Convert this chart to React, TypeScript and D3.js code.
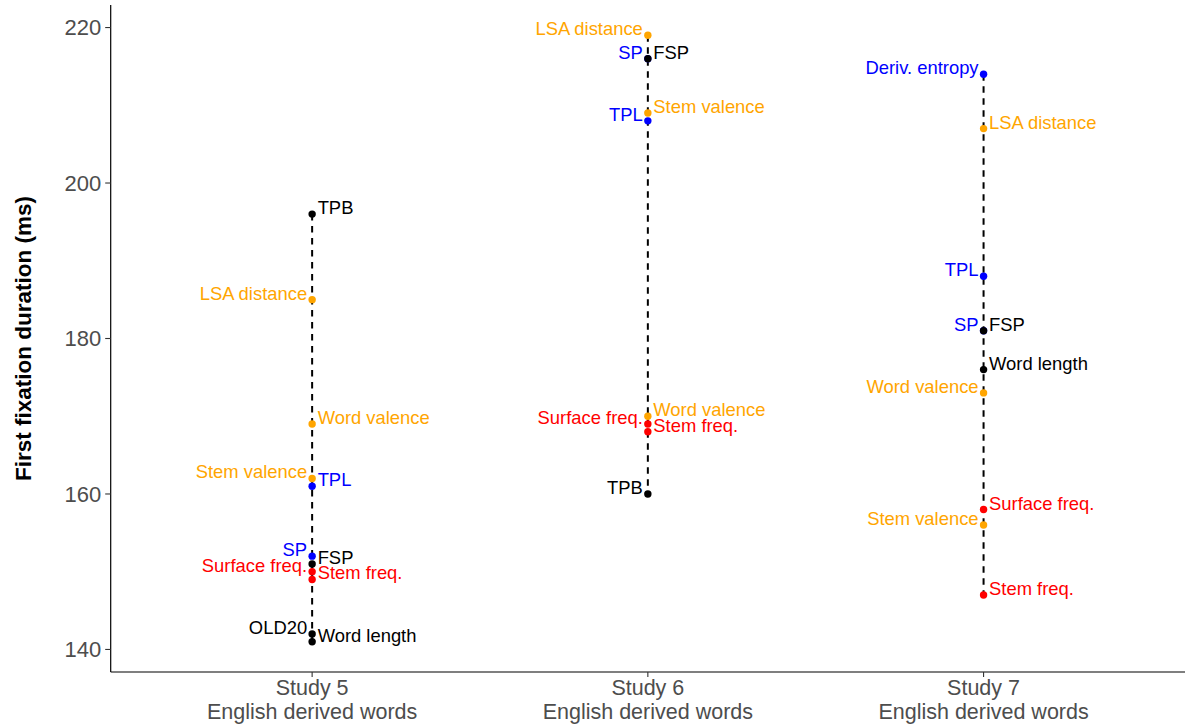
import React from "react";
import * as d3 from "d3";

// ---- data ----
const studies = ["Study 5", "Study 6", "Study 7"];
const studySubtitle = "English derived words";

const study5Vars = ["TPL", "SP", "LSA distance", "Word valence", "Stem valence", "Surface freq.", "Stem freq.", "TPB", "FSP", "OLD20", "Word length"];
const study5Values = [161, 152, 185, 169, 162, 150, 149, 196, 151, 142, 141];
const study5Sides = ["right", "left", "left", "right", "left", "left", "right", "right", "right", "left", "right"];

const study6Vars = ["SP", "TPL", "LSA distance", "Stem valence", "Word valence", "Surface freq.", "Stem freq.", "FSP", "TPB"];
const study6Values = [216, 208, 219, 209, 170, 169, 168, 216, 160];
const study6Sides = ["left", "left", "left", "right", "right", "left", "right", "right", "left"];

const study7Vars = ["Deriv. entropy", "TPL", "SP", "LSA distance", "Word valence", "Stem valence", "Surface freq.", "Stem freq.", "FSP", "Word length"];
const study7Values = [214, 188, 181, 207, 173, 156, 158, 147, 181, 176];
const study7Sides = ["left", "left", "left", "right", "left", "left", "right", "right", "right", "right"];

const yTicks = [140, 160, 180, 200, 220];
const yTitle = "First fixation duration (ms)";

const blackVars = ["TPB", "FSP", "OLD20", "Word length"];
const orangeVars = ["LSA distance", "Word valence", "Stem valence"];
const blueVars = ["TPL", "SP", "Deriv. entropy"];
const redVars = ["Surface freq.", "Stem freq."];

const colorOf = (v: string) =>
  blackVars.includes(v) ? "#000000" : orangeVars.includes(v) ? "#FFA500" : blueVars.includes(v) ? "#0000FF" : redVars.includes(v) ? "#FF0000" : "#000";

const studyData = [
  { vars: study5Vars, values: study5Values, sides: study5Sides },
  { vars: study6Vars, values: study6Values, sides: study6Sides },
  { vars: study7Vars, values: study7Values, sides: study7Sides },
];

// ---- layout ----
const W = 1189;
const H = 727;
const left = 110.7;
const right = 1185;
const top = 5;
const bottom = 672;
const FONT = "'Liberation Sans', Arial, Helvetica, sans-serif";

export default function App() {
  const y = d3.scaleLinear().domain([137.1, 222.9]).range([bottom, top]);
  const x = d3.scalePoint<string>().domain(studies).range([left, right]).padding(0.6);

  return (
    <svg width={W} height={H} style={{ position: "absolute", left: 0, top: 0, background: "#fff" }} fontFamily={FONT}>
      <rect x={0} y={0} width={W} height={H} fill="#fff" />
      {/* dashed range lines */}
      {studies.map((s, i) => {
        const vals = studyData[i].values;
        const lo = d3.min(vals) as number;
        const hi = d3.max(vals) as number;
        return (
          <line
            key={"l" + s}
            x1={x(s)}
            x2={x(s)}
            y1={y(hi)}
            y2={y(lo)}
            stroke="#000"
            strokeWidth={2}
            strokeDasharray="6.5,5.5"
          />
        );
      })}
      {/* points */}
      {studies.map((s, i) =>
        studyData[i].vars.map((v, j) => (
          <circle key={"p" + s + v} cx={x(s)} cy={y(studyData[i].values[j])} r={3.7} fill={colorOf(v)} />
        ))
      )}
      {/* labels */}
      {studies.map((s, i) =>
        studyData[i].vars.map((v, j) => {
          const side = studyData[i].sides[j];
          const cx = x(s) as number;
          return (
            <text
              key={"t" + s + v}
              x={side === "left" ? cx - 5 : cx + 5.5}
              y={y(studyData[i].values[j])}
              textAnchor={side === "left" ? "end" : "start"}
              fontSize={18.4}
              fill={colorOf(v)}
            >
              {v}
            </text>
          );
        })
      )}
      {/* axes */}
      <line x1={left} x2={left} y1={top} y2={bottom} stroke="#000" strokeWidth={1.2} />
      <line x1={left} x2={right} y1={bottom} y2={bottom} stroke="#000" strokeWidth={1.2} />
      {yTicks.map((t) => (
        <g key={"yt" + t}>
          <line x1={left - 5.5} x2={left} y1={y(t)} y2={y(t)} stroke="#333" strokeWidth={1.1} />
          <text x={left - 9.5} y={y(t) + 7.8} textAnchor="end" fontSize={22} fill="#4D4D4D">
            {t}
          </text>
        </g>
      ))}
      {studies.map((s) => (
        <g key={"xt" + s}>
          <line x1={x(s)} x2={x(s)} y1={bottom} y2={bottom + 5} stroke="#333" strokeWidth={1.1} />
          <text x={x(s)} y={695.3} textAnchor="middle" fontSize={21.5} fill="#4D4D4D">
            {s}
          </text>
          <text x={x(s)} y={719.3} textAnchor="middle" fontSize={21.5} fill="#4D4D4D">
            {studySubtitle}
          </text>
        </g>
      ))}
      <text
        transform={`translate(31, ${(top + bottom) / 2}) rotate(-90)`}
        textAnchor="middle"
        fontSize={22.5}
        fontWeight="bold"
        fill="#000"
      >
        {yTitle}
      </text>
    </svg>
  );
}
